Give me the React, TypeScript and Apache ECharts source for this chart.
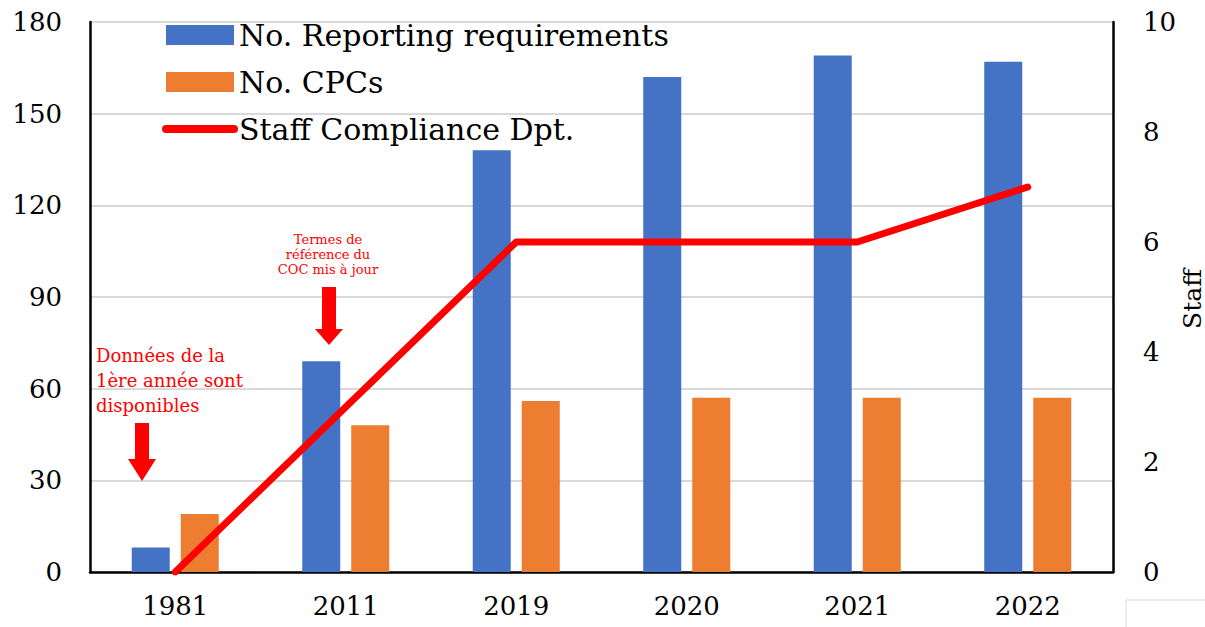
import React, { useEffect, useRef } from "react";
import * as echarts from "echarts";

const categories = ["1981", "2011", "2019", "2020", "2021", "2022"];
const reportingRequirements = [8, 69, 138, 162, 169, 167];
const cpcs = [19, 48, 56, 57, 57, 57];
const staffCompliance = [0, 3, 6, 6, 6, 7];
const rightAxisName = "Staff";

const FONT = "'DejaVu Serif', serif";

function arrow(cx: number, top: number, headTop: number, tip: number) {
  return {
    type: "polygon",
    shape: {
      points: [
        [cx - 7, top],
        [cx + 7, top],
        [cx + 7, headTop],
        [cx + 14, headTop],
        [cx, tip],
        [cx - 14, headTop],
        [cx - 7, headTop],
      ],
    },
    style: { fill: "#ff0000" },
    z: 100,
  };
}

export default function App() {
  const ref = useRef<HTMLDivElement>(null);
  useEffect(() => {
    if (!ref.current) return;
    const chart = echarts.init(ref.current, undefined, { renderer: "svg" });
    chart.setOption({
      animation: false,
      backgroundColor: "#ffffff",
      grid: { left: 90, right: 92, top: 22, bottom: 55, outerBoundsMode: "none", containLabel: false },
      legend: {
        orient: "vertical",
        left: 157,
        top: 15,
        itemWidth: 68,
        itemHeight: 20,
        itemGap: 17,
        textStyle: { fontFamily: FONT, fontSize: 30, color: "#000", lineHeight: 30 },
        data: [
          { name: "No. Reporting requirements", icon: "rect" },
          { name: "No. CPCs", icon: "rect" },
          {
            name: "Staff Compliance Dpt.",
            itemStyle: { opacity: 0 },
            lineStyle: { width: 8, color: "#ff0000", cap: "round" },
          },
        ],
      },
      xAxis: {
        type: "category",
        data: categories,
        axisLine: { lineStyle: { color: "#000", width: 2.5 } },
        axisTick: { show: false },
        axisLabel: { fontFamily: FONT, fontSize: 26, color: "#000", margin: 21 },
      },
      yAxis: [
        {
          type: "value",
          min: 0,
          max: 180,
          interval: 30,
          axisLine: { show: true, lineStyle: { color: "#000", width: 2.5 } },
          axisTick: { show: false },
          splitLine: { lineStyle: { color: "#d9d9d9", width: 2 } },
          axisLabel: { fontFamily: FONT, fontSize: 26, color: "#000", margin: 28 },
        },
        {
          type: "value",
          min: 0,
          max: 10,
          interval: 2,
          position: "right",
          axisLine: { show: true, lineStyle: { color: "#000", width: 2.5 } },
          axisTick: { show: false },
          splitLine: { show: false },
          axisLabel: { fontFamily: FONT, fontSize: 26, color: "#000", margin: 30 },
        },
      ],
      series: [
        {
          name: "No. Reporting requirements",
          type: "bar",
          data: reportingRequirements,
          barWidth: 38,
          barGap: "29%",
          itemStyle: { color: "#4472C4" },
        },
        {
          name: "No. CPCs",
          type: "bar",
          data: cpcs,
          barWidth: 38,
          itemStyle: { color: "#ED7D31" },
        },
        {
          name: "Staff Compliance Dpt.",
          type: "line",
          yAxisIndex: 1,
          data: staffCompliance,
          symbol: "none",
          lineStyle: { color: "#ff0000", width: 7, cap: "round", join: "round" },
          itemStyle: { color: "#ff0000" },
          z: 10,
        },
      ],
      graphic: [
        {
          type: "text",
          x: 1192,
          y: 299,
          rotation: Math.PI / 2,
          style: {
            text: rightAxisName,
            fill: "#000",
            font: `25px ${FONT}`,
            align: "center",
            verticalAlign: "middle",
          },
          z: 100,
        },
        {
          type: "text",
          left: 96,
          top: 343,
          style: {
            text: "Données de la\n1ère année sont\ndisponibles",
            fill: "#ff0000",
            font: `18px ${FONT}`,
            lineHeight: 25,
          },
          z: 100,
        },
        arrow(142, 423, 459, 481),
        {
          type: "text",
          x: 328,
          y: 232,
          style: {
            text: "Termes de\nréférence du\nCOC mis à jour",
            fill: "#ff0000",
            font: `13px ${FONT}`,
            lineHeight: 15,
            align: "center",
          },
          z: 100,
        },
        arrow(329, 287, 329, 345),
        {
          type: "rect",
          shape: { x: 1126, y: 600, width: 100, height: 40 },
          style: { fill: "#ffffff", stroke: "#d9d9d9", lineWidth: 1 },
          z: 100,
        },
      ],
    });
    return () => chart.dispose();
  }, []);
  return (
    <div
      ref={ref}
      style={{ position: "fixed", left: 0, top: 0, width: 1205, height: 627 }}
    />
  );
}
